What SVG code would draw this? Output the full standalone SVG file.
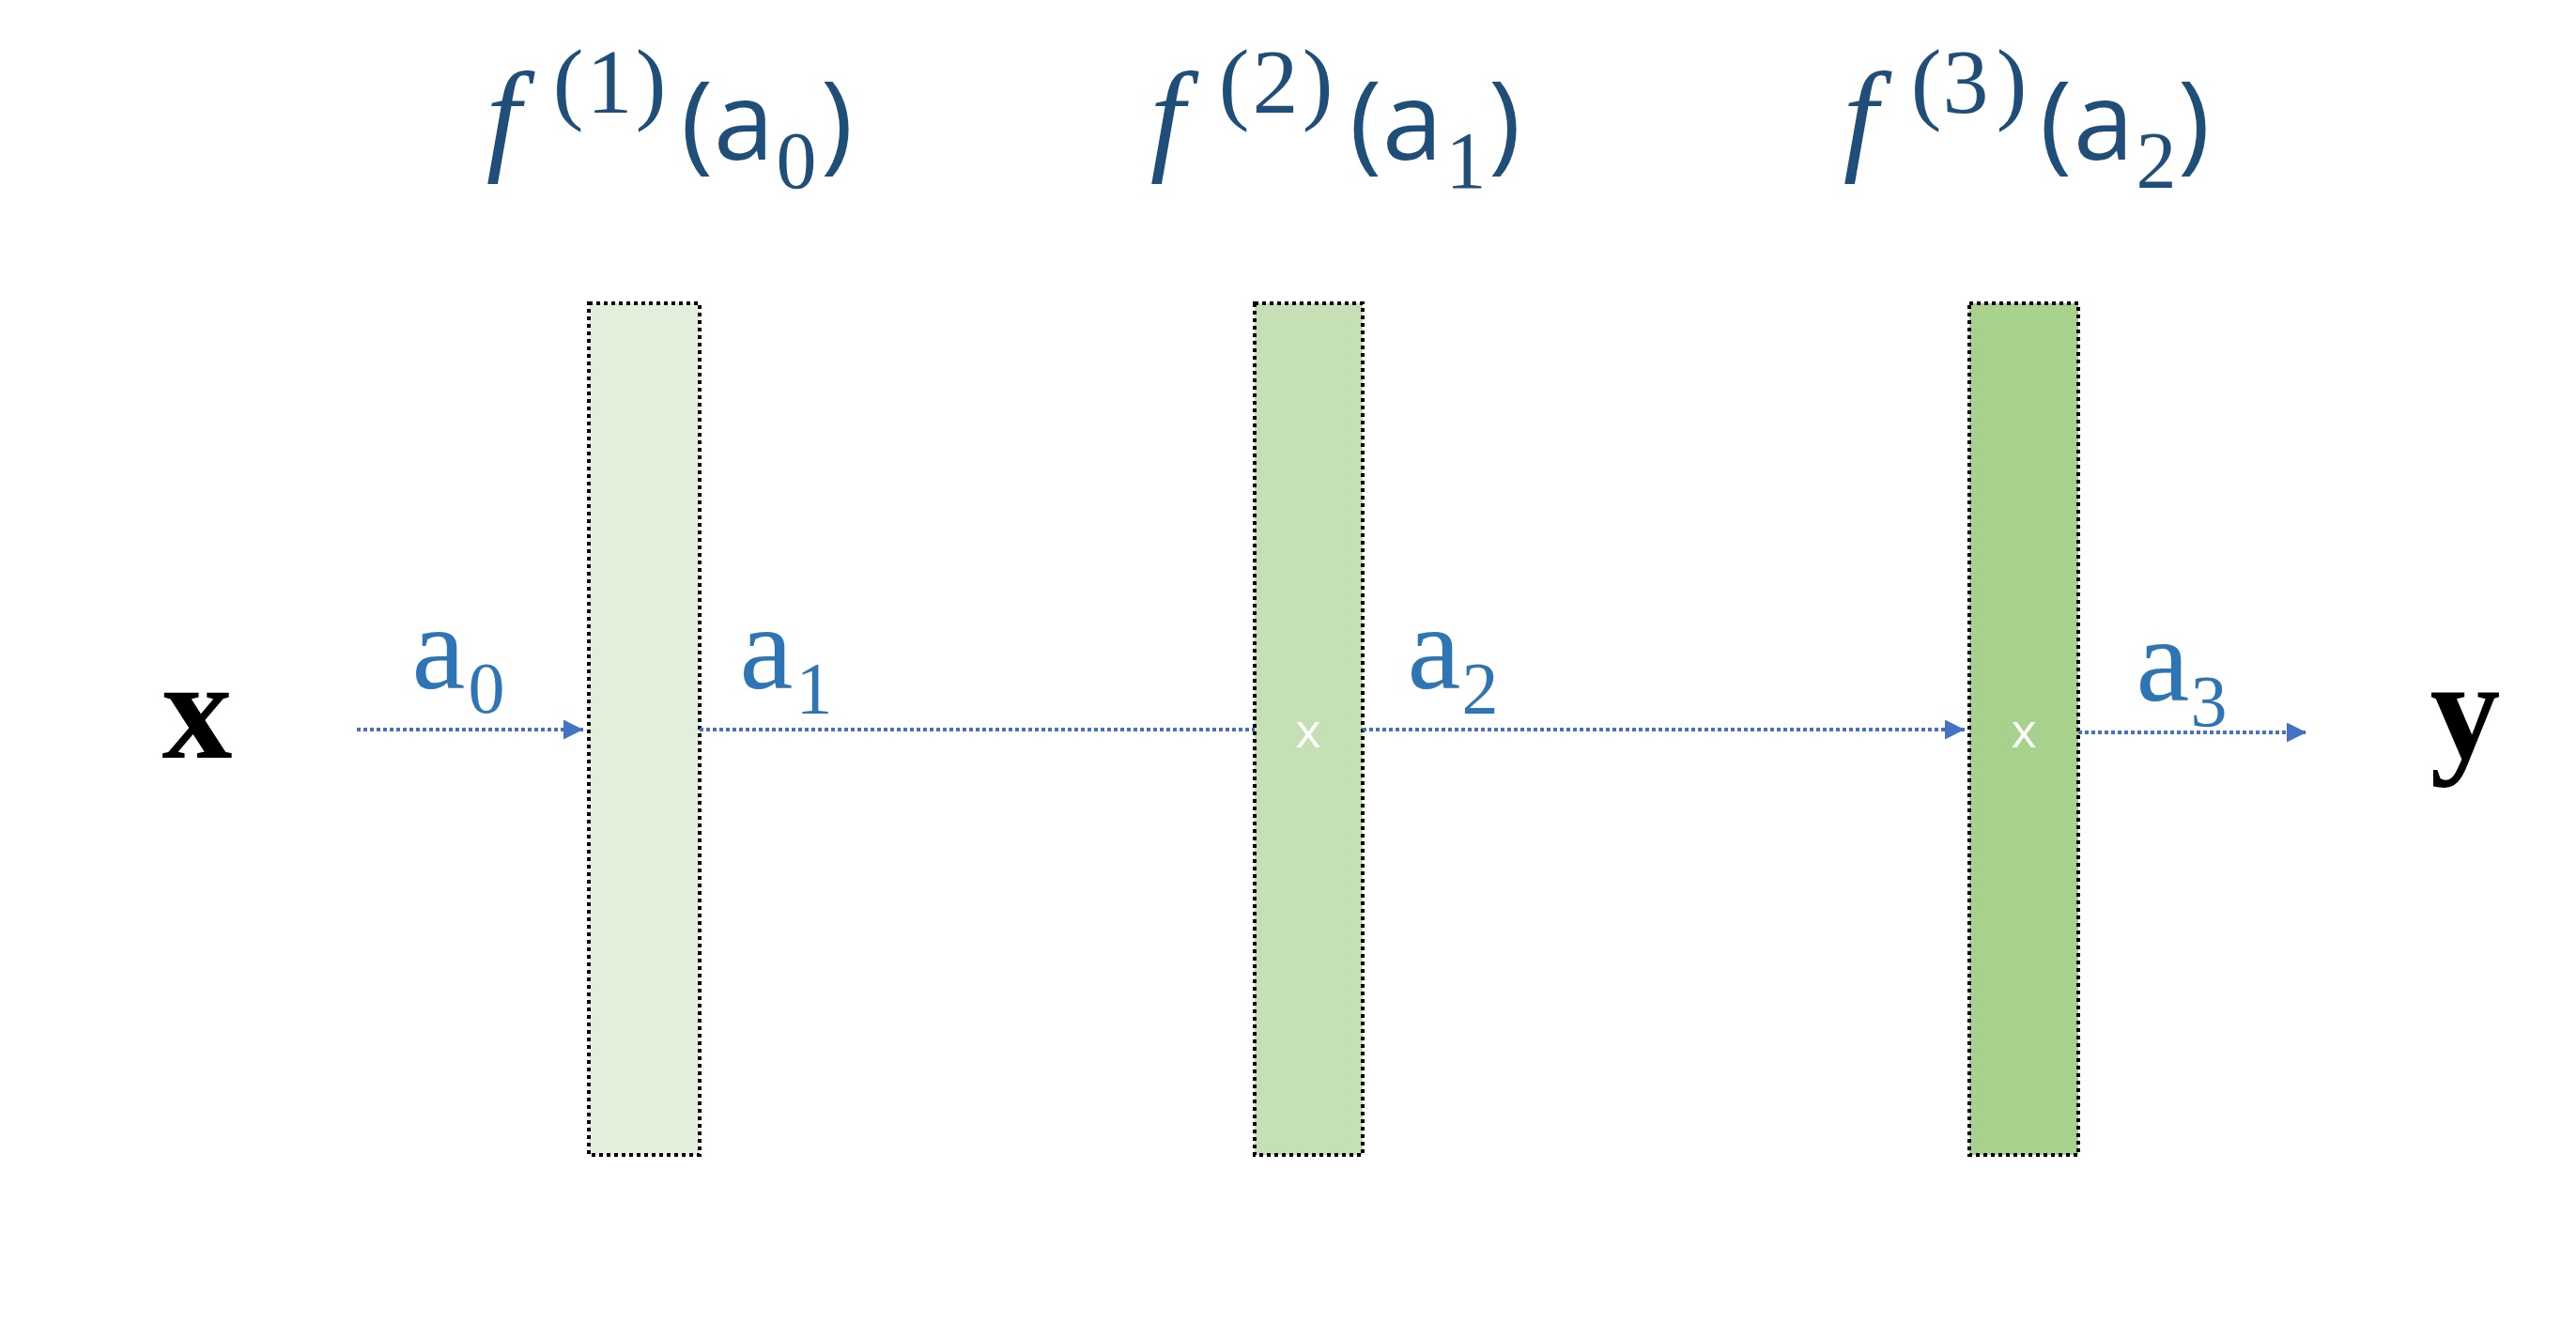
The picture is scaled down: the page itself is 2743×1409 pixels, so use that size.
<svg xmlns="http://www.w3.org/2000/svg" width="2743" height="1409" viewBox="0 0 2743 1409">
<style>
.title{fill:#1F4E79;text-anchor:middle}
.fi{font-family:"Liberation Serif",serif;font-style:italic;font-size:132px}
.sup{font-family:"Liberation Serif",serif;font-size:98px}
.big{font-family:"Open Sans","Liberation Sans",sans-serif;font-size:116px}
.sub{font-family:"Liberation Serif",serif;font-size:86px}
.lab{fill:#2E75B6;text-anchor:middle;font-family:"Liberation Serif",serif}
.la{font-size:128px}
.ld{font-size:78px}
.box{stroke:#000;stroke-width:4;stroke-dasharray:4 4}
.end{font-family:"Liberation Serif",serif;font-weight:bold;font-size:150px;fill:#000;text-anchor:middle}
.wx{font-family:"Open Sans","Liberation Sans",sans-serif;font-size:52px;fill:#fff;text-anchor:middle}
.conn{stroke:#4472C4;stroke-width:4;stroke-dasharray:4 3;fill:none}
</style>
<defs>
<marker id="ah" markerUnits="userSpaceOnUse" markerWidth="22" markerHeight="22" refX="21" refY="10.5" orient="auto">
<path d="M0,0 L21,10.5 L0,21 Z" fill="#4472C4"/>
</marker>
</defs>
<rect width="2743" height="1409" fill="#fff"/>
<g id="title1">
<text class="title"><tspan class="fi" x="536" y="168">f</tspan><tspan class="sup" x="605" y="120">(</tspan><tspan class="sup" x="649" y="120">1</tspan><tspan class="sup" x="693" y="120">)</tspan><tspan class="big" x="742" y="170">(</tspan><tspan class="big" x="792" y="170">a</tspan><tspan class="sub" x="848" y="200">0</tspan><tspan class="big" x="891" y="170">)</tspan></text>
</g>
<g id="title2">
<text class="title"><tspan class="fi" x="1243" y="168">f</tspan><tspan class="sup" x="1314" y="120">(</tspan><tspan class="sup" x="1358" y="120">2</tspan><tspan class="sup" x="1403" y="120">)</tspan><tspan class="big" x="1454" y="170">(</tspan><tspan class="big" x="1504" y="170">a</tspan><tspan class="sub" x="1561" y="200">1</tspan><tspan class="big" x="1602" y="170">)</tspan></text>
</g>
<g id="title3">
<text class="title"><tspan class="fi" x="1981" y="168">f</tspan><tspan class="sup" x="2051" y="120">(</tspan><tspan class="sup" x="2093" y="120">3</tspan><tspan class="sup" x="2142" y="120">)</tspan><tspan class="big" x="2189" y="170">(</tspan><tspan class="big" x="2240" y="170">a</tspan><tspan class="sub" x="2296" y="200">2</tspan><tspan class="big" x="2336" y="170">)</tspan></text>
</g>
<g id="input-x"><text class="end" x="210" y="807">x</text></g>
<g id="output-y"><text class="end" x="2625" y="807">y</text></g>
<g id="layer1"><rect class="box" x="627" y="323" width="118" height="907" fill="#E2EFDA"/></g>
<g id="layer2"><rect class="box" x="1336" y="323" width="115" height="907" fill="#C5E0B4"/><text class="wx" x="1393" y="796">x</text></g>
<g id="layer3"><rect class="box" x="2097" y="323" width="116" height="907" fill="#A9D18E"/><text class="wx" x="2155" y="796">x</text></g>
<g id="connectors">
<line class="conn" x1="380" y1="777" x2="621" y2="777" marker-end="url(#ah)"/>
<line class="conn" x1="745" y1="777" x2="1336" y2="777"/>
<line class="conn" x1="1451" y1="777" x2="2092" y2="777" marker-end="url(#ah)"/>
<line class="conn" x1="2213" y1="780" x2="2456" y2="780" marker-end="url(#ah)"/>
</g>
<g id="labels">
<text class="lab"><tspan class="la" x="467" y="733">a</tspan><tspan class="ld" x="518" y="759">0</tspan></text>
<text class="lab"><tspan class="la" x="816" y="733">a</tspan><tspan class="ld" x="867" y="759">1</tspan></text>
<text class="lab"><tspan class="la" x="1527" y="733">a</tspan><tspan class="ld" x="1576" y="759">2</tspan></text>
<text class="lab"><tspan class="la" x="2303" y="746">a</tspan><tspan class="ld" x="2352" y="773">3</tspan></text>
</g>
</svg>
